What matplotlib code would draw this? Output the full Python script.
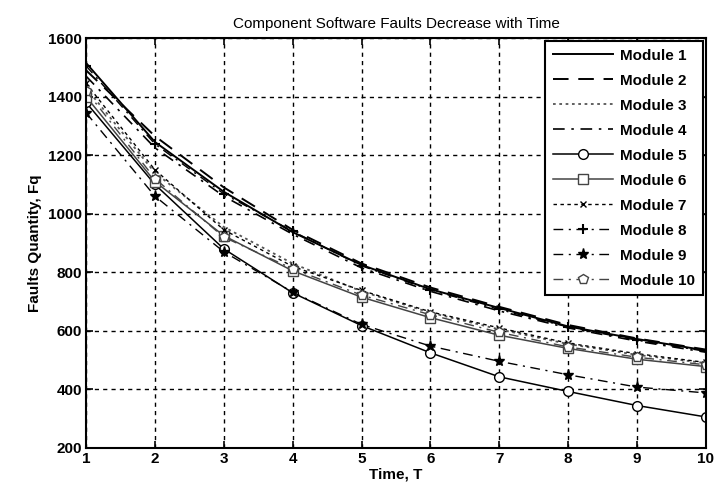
import matplotlib
matplotlib.use("Agg")
import matplotlib.pyplot as plt

plt.rcParams['font.family'] = ['Liberation Sans', 'DejaVu Sans']

time_t = [1, 2, 3, 4, 5, 6, 7, 8, 9, 10]
module_names = ["Module 1", "Module 2", "Module 3", "Module 4", "Module 5",
                "Module 6", "Module 7", "Module 8", "Module 9", "Module 10"]

m1 = [1515, 1245, 1075, 937, 825, 742, 678, 615, 572, 533]
m2 = [1490, 1265, 1090, 945, 830, 748, 682, 620, 574, 536]
m3 = [1430, 1140, 955, 830, 735, 662, 605, 555, 518, 490]
m4 = [1470, 1225, 1060, 930, 815, 735, 668, 610, 565, 527]
m5 = [1380, 1100, 880, 730, 618, 525, 443, 393, 345, 306]
m6 = [1400, 1110, 925, 805, 715, 645, 585, 540, 503, 478]
m7 = [1445, 1150, 945, 820, 738, 665, 610, 558, 522, 492]
m8 = [1505, 1238, 1068, 940, 822, 740, 673, 613, 568, 530]
m9 = [1345, 1060, 870, 732, 622, 548, 496, 450, 408, 388]
m10 = [1420, 1120, 920, 812, 722, 655, 595, 545, 510, 484]
series = [m1, m2, m3, m4, m5, m6, m7, m8, m9, m10]

styles = [
    dict(ls='-', marker=None, color='black', lw=1.4),
    dict(ls=(0, (8, 5)), marker=None, color='black', lw=1.4),
    dict(ls=(0, (1.5, 2)), marker=None, color='#555555', lw=1.3),
    dict(ls=(0, (7, 4, 1.5, 4)), marker=None, color='black', lw=1.2),
    dict(ls='-', marker='o', color='black', lw=1.1, mfc='white', ms=7),
    dict(ls='-', marker='s', color='#444444', lw=1.1, mfc='white', ms=7),
    dict(ls=(0, (2.5, 2.5)), marker='x', color='black', lw=1.0, ms=5),
    dict(ls=(0, (7, 4, 1.5, 4)), marker='+', color='black', lw=1.0, ms=7, mew=1.5),
    dict(ls=(0, (7, 4, 1.5, 4)), marker='*', color='black', lw=1.0, ms=8),
    dict(ls=(0, (7, 4, 1.5, 4)), marker='p', color='#444444', lw=1.0, mfc='white', ms=7),
]

fig = plt.figure(figsize=(7.15, 4.97), dpi=100)
ax = fig.add_axes([0.1203, 0.0986, 0.8671, 0.8249])

for name, vals, st in zip(module_names, series, styles):
    ax.plot(time_t, vals, label=name, **st)

ax.set_xlim(1, 10)
ax.set_ylim(200, 1600)
ax.set_xticks(time_t)
ax.set_yticks([200, 400, 600, 800, 1000, 1200, 1400, 1600])
ax.grid(True, color='black', linestyle=(0, (3, 3)), linewidth=1.0)
ax.tick_params(direction='in', top=True, right=True, length=5, width=1.2,
               labelsize=11, pad=3)
for lab in ax.get_xticklabels() + ax.get_yticklabels():
    lab.set_fontweight('bold')
for s in ax.spines.values():
    s.set_linewidth(1.5)

ax.set_title("Component Software Faults Decrease with Time", fontsize=11, pad=7)
ax.set_xlabel("Time, T", fontsize=11, labelpad=1, fontweight='bold')
ax.set_ylabel("Faults Quantity, Fq", fontsize=11, labelpad=4, fontweight='bold')

leg = ax.legend(loc='upper right', frameon=True, fancybox=False,
                edgecolor='black', framealpha=1, handlelength=3.9,
                borderaxespad=0.2, labelspacing=0.72, handletextpad=0.5,
                borderpad=0.5, prop={'weight': 'bold', 'size': 11})
leg.get_frame().set_linewidth(1.5)

fig.savefig("out.png", dpi=100)
